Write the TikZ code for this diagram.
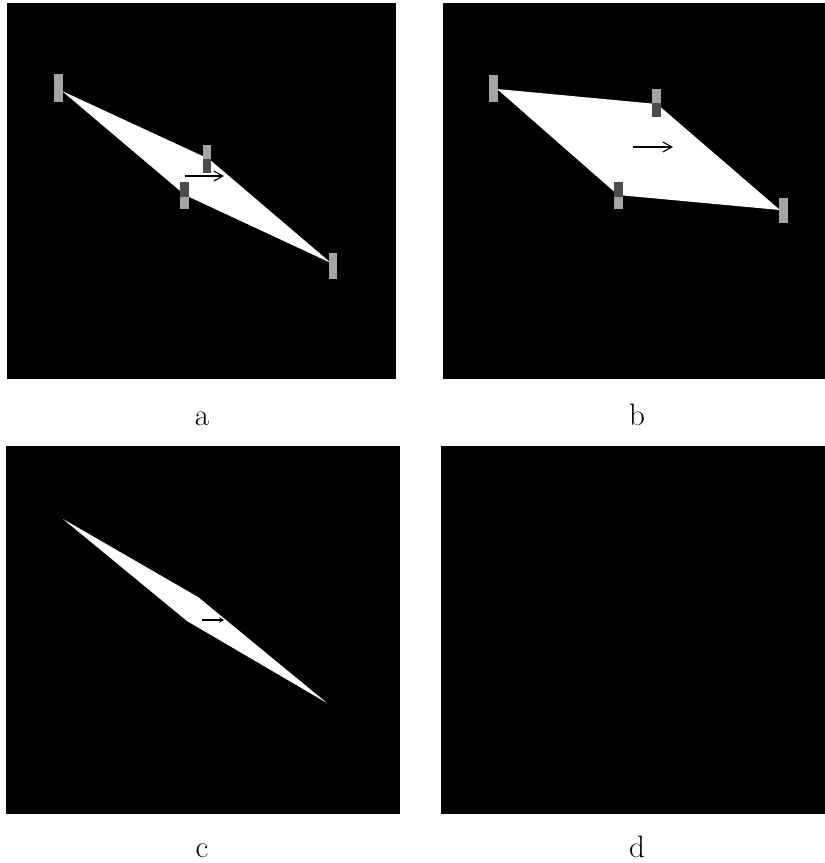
\documentclass[tikz,border=0pt]{standalone}
\usetikzlibrary{arrows.meta}
\definecolor{marklight}{HTML}{A4A4A4}
\definecolor{markdark}{HTML}{4C4C4C}
\begin{document}
\begin{tikzpicture}[x=1pt,y=-1pt,
  panel/.style={fill=black},
  sheet/.style={fill=white},
  mlight/.style={fill=marklight},
  mdark/.style={fill=markdark},
  motion/.style={draw=black,line width=1.1pt,-{Straight Barb[length=9pt,width=10pt,line width=1.1pt]}},
  smallmotion/.style={draw=black,line width=1.6pt,-{Stealth[length=5pt,width=6pt]}},
  lab/.style={anchor=base,inner sep=0pt,font=\fontsize{31}{34}\selectfont}]
\useasboundingbox (0,0) rectangle (825,863);
\fill[white] (0,0) rectangle (825,863);

% ---------- panel a ----------
\fill[panel] (7,3) rectangle (396,379);
\coordinate (a1) at (62,91);
\coordinate (a2) at (209,159);
\coordinate (a3) at (331,263);
\coordinate (a4) at (185,195);
\fill[sheet] (a1) -- (a2) -- (a3) -- (a4) -- cycle;
\fill[mlight] (54,74) rectangle (63,102);
\fill[mlight] (203,145) rectangle (211,159);
\fill[mdark] (203,159) rectangle (211,173);
\fill[mdark] (180,182) rectangle (189,197);
\fill[mlight] (180,197) rectangle (189,209);
\fill[mlight] (329,253) rectangle (337,279);
\coordinate (aa0) at (185,176);
\coordinate (aa1) at (224,176);
\draw[motion] (aa0) -- (aa1);
\node[lab] (la) at (202,425) {a};

% ---------- panel b ----------
\fill[panel] (443,3) rectangle (825,379);
\coordinate (b1) at (497,89);
\coordinate (b2) at (657,104);
\coordinate (b3) at (780,210);
\coordinate (b4) at (618,195);
\fill[sheet] (b1) -- (b2) -- (b3) -- (b4) -- cycle;
\fill[mlight] (489,75) rectangle (498,102);
\fill[mlight] (652,89) rectangle (661,103);
\fill[mdark] (652,103) rectangle (661,117);
\fill[mdark] (614,182) rectangle (623,197);
\fill[mlight] (614,197) rectangle (623,209);
\fill[mlight] (779,198) rectangle (788,223);
\coordinate (ba0) at (633,147);
\coordinate (ba1) at (673,147);
\draw[motion] (ba0) -- (ba1);
\node[lab] (lb) at (637,425) {b};

% ---------- panel c ----------
\fill[panel] (6,446) rectangle (400,814);
\coordinate (c1) at (63,519);
\coordinate (c2) at (198,597);
\coordinate (c3) at (327,703);
\coordinate (c4) at (187,621);
\fill[sheet] (c1) -- (c2) -- (c3) -- (c4) -- cycle;
\coordinate (ca0) at (202,620);
\coordinate (ca1) at (224,620);
\draw[smallmotion] (ca0) -- (ca1);
\node[lab] (lc) at (202,857) {c};

% ---------- panel d ----------
\fill[panel] (441,446) rectangle (825,814);
\node[lab] (ld) at (637,857) {d};
\end{tikzpicture}
\end{document}
